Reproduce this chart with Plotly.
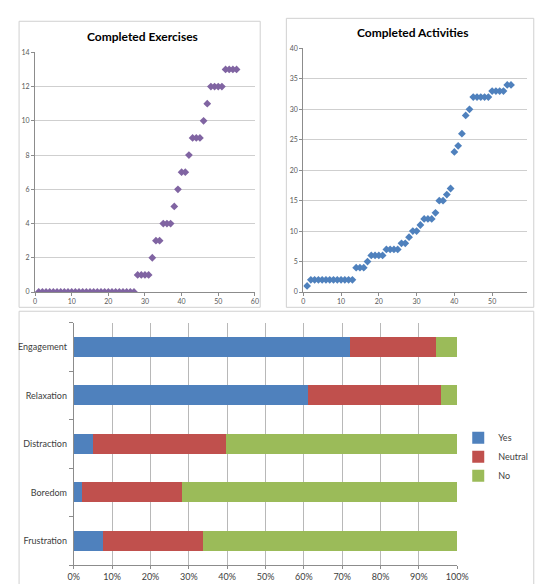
import plotly.graph_objects as go

W, H = 538, 584

# ---- data ----
participants = list(range(1, 56))
exercises = [0]*27 + [1]*4 + [2] + [3]*2 + [4]*3 + [5] + [6] + [7]*2 + [8] + [9]*3 + [10] + [11] + [12]*4 + [13]*4
activities = [1] + [2]*12 + [4]*3 + [5] + [6]*4 + [7]*4 + [8]*2 + [9] + [10]*2 + [11] + [12]*3 + [13] + [15]*2 + [16] + [17] + [23] + [24] + [26] + [29] + [30] + [32]*5 + [33]*4 + [34]*2

feelings = ["Engagement", "Relaxation", "Distraction", "Boredom", "Frustration"]
yes_pct = [72.0, 61.2, 4.9, 2.1, 7.6]
neutral_pct = [22.4, 34.6, 34.7, 26.1, 26.2]
no_pct = [5.6, 4.2, 60.4, 71.8, 66.2]

x_ticks = [0, 10, 20, 30, 40, 50, 60]

def px_x(p):
    return p / W

def px_y(p):
    return 1 - p / H

fig = go.Figure()

fig.add_trace(go.Scatter(x=participants, y=exercises, mode="markers",
                         marker=dict(symbol="diamond", size=6, color="#8064A2"),
                         xaxis="x", yaxis="y", showlegend=False))
fig.add_trace(go.Scatter(x=participants, y=activities, mode="markers",
                         marker=dict(symbol="diamond", size=6, color="#4F81BD"),
                         xaxis="x2", yaxis="y2", showlegend=False))

for name, vals, col in [("Yes", yes_pct, "#4F81BD"), ("Neutral", neutral_pct, "#C0504D"), ("No", no_pct, "#9BBB59")]:
    fig.add_trace(go.Bar(y=feelings, x=[v / 100 for v in vals], orientation="h", name=name,
                         marker=dict(color=col, line=dict(width=0)),
                         xaxis="x3", yaxis="y3", legendgroup=name))

tickfont_small = dict(family="Lato, Open Sans, sans-serif", size=7, color="#595959")
tickfont_bar = dict(family="Lato, Open Sans, sans-serif", size=9, color="#404040")
grid_col = "#cfcfcf"
axis_col = "#8c8c8c"

fig.update_layout(
    width=W, height=H,
    margin=dict(l=0, r=0, t=0, b=0),
    paper_bgcolor="white", plot_bgcolor="white",
    barmode="stack", bargap=0.59,
    font=dict(family="Lato, Open Sans, sans-serif"),
    xaxis=dict(domain=[px_x(30), px_x(257)], range=[0, 60], tickvals=x_ticks,
               showgrid=False, zeroline=False, showline=True, linecolor=axis_col, linewidth=1,
               ticks="outside", ticklen=3, tickcolor=axis_col, tickfont=tickfont_small, anchor="y"),
    yaxis=dict(domain=[px_y(291), px_y(48)], range=[0, 14], dtick=2,
               showgrid=True, gridcolor=grid_col, gridwidth=1, zeroline=False,
               showline=True, linecolor=axis_col, linewidth=1,
               ticks="outside", ticklen=3, tickcolor=axis_col, tickfont=tickfont_small, anchor="x"),
    xaxis2=dict(domain=[px_x(307), 1.0], range=[0, 60 * (538 - 307) / 234], tickvals=x_ticks,
                showgrid=False, zeroline=False, showline=True, linecolor=axis_col, linewidth=1,
                ticks="outside", ticklen=3, tickcolor=axis_col, tickfont=tickfont_small, anchor="y2"),
    yaxis2=dict(domain=[px_y(291), px_y(44)], range=[0, 40], dtick=5,
                showgrid=True, gridcolor=grid_col, gridwidth=1, zeroline=False,
                showline=True, linecolor=axis_col, linewidth=1,
                ticks="outside", ticklen=3, tickcolor=axis_col, tickfont=tickfont_small, anchor="x2"),
    xaxis3=dict(domain=[px_x(70), px_x(466)], range=[0, 1], dtick=0.1, tickformat=".0%",
                showgrid=True, gridcolor="#b8b8b8", gridwidth=1, zeroline=False,
                showline=True, linecolor=axis_col, linewidth=1,
                ticks="outside", ticklen=3, tickcolor=axis_col, tickfont=tickfont_bar, anchor="y3"),
    yaxis3=dict(domain=[px_y(568), px_y(322)], categoryorder="array", categoryarray=feelings[::-1],
                tickson="boundaries", showgrid=False, zeroline=False,
                showline=True, linecolor=axis_col, linewidth=1, ticklabelstandoff=4,
                ticks="outside", ticklen=4, tickcolor=axis_col, tickfont=tickfont_bar, anchor="x3"),
    legend=dict(x=px_x(467), y=px_y(424), xanchor="left", yanchor="top",
                font=dict(family="Lato, Open Sans, sans-serif", size=9, color="#404040"),
                tracegroupgap=4, bgcolor="rgba(0,0,0,0)", traceorder="normal"),
    annotations=[
        dict(text="<b>Completed Exercises</b>", x=px_x(141), y=px_y(32), xref="paper", yref="paper",
             xanchor="center", yanchor="middle",
             showarrow=False, font=dict(family="Lato, Open Sans, sans-serif", size=12, color="#000000")),
        dict(text="<b>Completed Activities</b>", x=px_x(420), y=px_y(28), xref="paper", yref="paper",
             xanchor="center", yanchor="middle",
             showarrow=False, font=dict(family="Lato, Open Sans, sans-serif", size=12, color="#000000")),
    ],
    shapes=[
        dict(type="rect", xref="paper", yref="paper", x0=px_x(13.5), x1=px_x(262.5), y0=px_y(306.5), y1=px_y(16.5),
             line=dict(color="#d0d0d0", width=1), fillcolor="rgba(0,0,0,0)", layer="below"),
        dict(type="rect", xref="paper", yref="paper", x0=px_x(289.5), x1=px_x(545), y0=px_y(306.5), y1=px_y(13.5),
             line=dict(color="#d0d0d0", width=1), fillcolor="rgba(0,0,0,0)", layer="below"),
        dict(type="rect", xref="paper", yref="paper", x0=px_x(13.5), x1=px_x(545), y0=px_y(595), y1=px_y(310.5),
             line=dict(color="#d0d0d0", width=1), fillcolor="rgba(0,0,0,0)", layer="below"),
    ],
)

fig.write_html("out.html")
